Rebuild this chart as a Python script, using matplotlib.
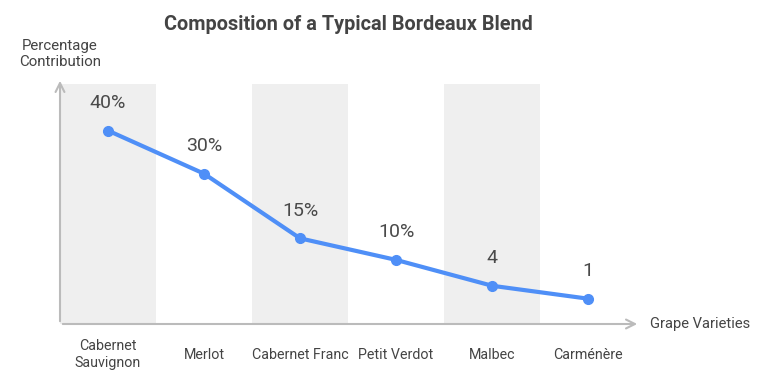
import numpy as np
import matplotlib.pyplot as plt

plt.rcParams['font.family'] = ['Roboto', 'DejaVu Sans']

varieties = ['Cabernet\nSauvignon', 'Merlot', 'Cabernet Franc', 'Petit Verdot', 'Malbec', 'Carménère']
share = [40, 30, 15, 10, 4, 1]
value_labels = ['40%', '30%', '15%', '10%', '4', '1']

blue = '#4f8ff7'
text_col = '#444444'
axis_col = '#bbbbbb'

fig = plt.figure(figsize=(7.68, 3.88), dpi=100)
ax = fig.add_axes([60 / 768, 64 / 388, 580 / 768, 246 / 388])

x = np.arange(len(varieties))
ax.set_xlim(-0.5, 5.54)
ax.set_ylim(-4.87, 52.2)

# alternating bands
for i in range(0, len(varieties), 2):
    ax.fill_between([i - 0.5, i + 0.5], -4.87, 50.8, color='#efefef', lw=0, zorder=0)

ax.plot(x, share, color=blue, lw=3, marker='o', ms=7, zorder=3)
for xi, yi, lab in zip(x, share, value_labels):
    ax.annotate(lab, (xi, yi), xytext=(0, 20), textcoords='offset points',
                ha='center', va='center', fontsize=14, color='#4a4a4a')

for s in ax.spines.values():
    s.set_visible(False)
ax.set_xticks([])
ax.set_yticks([])

# axis arrows
arrow = dict(arrowstyle='->', color=axis_col, lw=1.5, mutation_scale=16)
ax.annotate('', xy=(1, 0), xytext=(0, 0), xycoords='axes fraction', arrowprops=arrow)
ax.annotate('', xy=(0, 1), xytext=(0, 0), xycoords='axes fraction', arrowprops=arrow)

# category labels
for xi, name in zip(x, varieties):
    ax.text(xi, -0.125, name, transform=ax.get_xaxis_transform(), ha='center', va='center',
            fontsize=10.3, color=text_col, linespacing=1.3)

fig.text(650 / 768, 1 - 324 / 388, 'Grape Varieties', ha='left', va='center', fontsize=10.6, color=text_col)
fig.text(60 / 768, 1 - 54 / 388, 'Percentage\nContribution', ha='center', va='center',
         fontsize=10.8, color=text_col, linespacing=1.25)
fig.text(348 / 768, 1 - 24 / 388, 'Composition of a Typical Bordeaux Blend', ha='center', va='center',
         fontsize=14.3, fontweight='bold', color=text_col)

fig.savefig('out.png', dpi=100)
